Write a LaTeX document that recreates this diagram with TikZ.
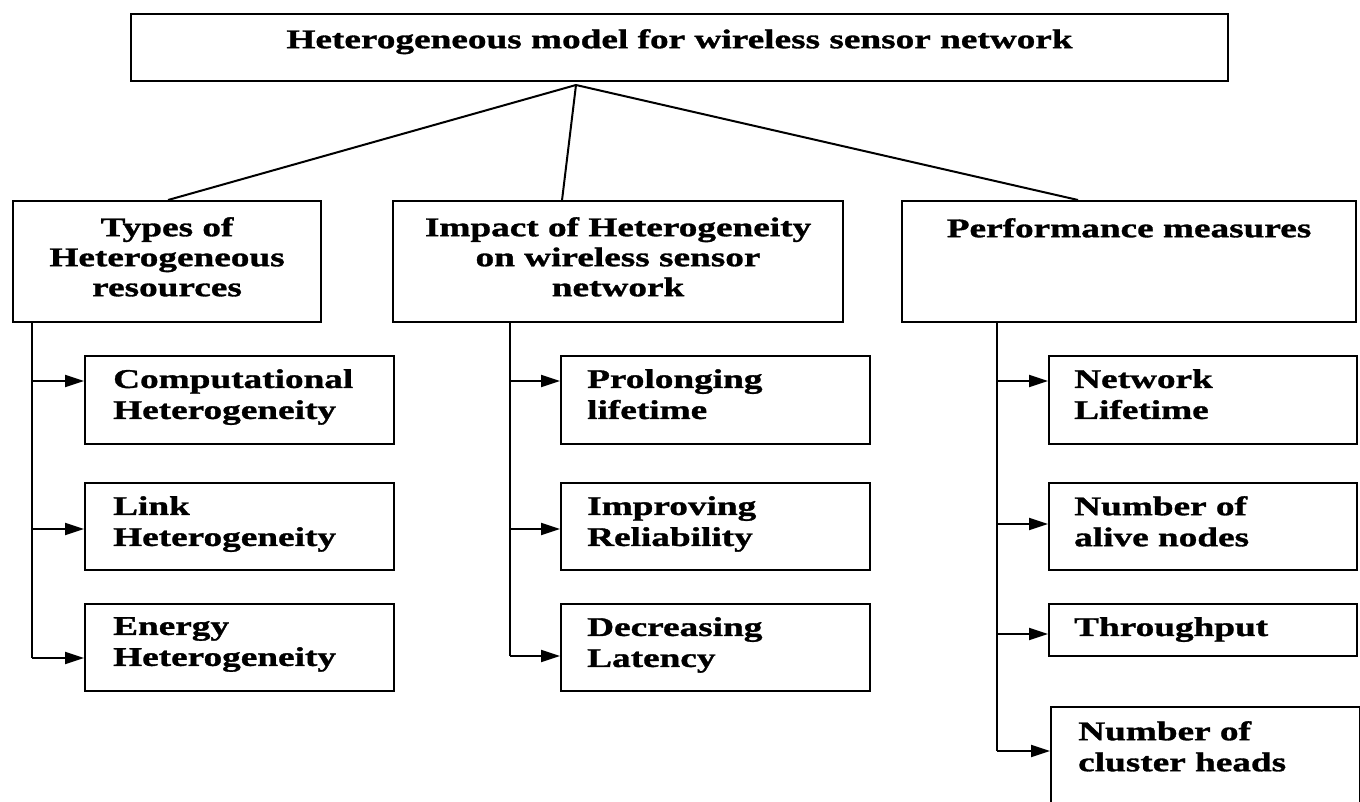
\documentclass[tikz,border=0pt]{standalone}
\usepackage{fontspec}
\setmainfont{Liberation Serif}[FakeStretch=1.38, BoldFeatures={FakeBold=1.2}]
\usetikzlibrary{arrows.meta,calc}
\begin{document}
\begin{tikzpicture}[x=1pt,y=-1pt,
  box/.style={draw, line width=2.1pt, inner sep=0pt, anchor=north west},
  txt/.style={inner sep=0pt, anchor=north west, align=left, font=\bfseries\fontsize{27}{31}\selectfont},
  ctxt/.style={inner sep=0pt, anchor=north, align=center, font=\bfseries\fontsize{27}{30}\selectfont},
  conn/.style={line width=2pt},
  arr/.style={-{Triangle[length=19pt,width=12pt]}}]
\fill[white] (0,0) rectangle (1360,801);
\clip (0,0) rectangle (1360,801);
% top
\node[box, minimum width=1097pt, minimum height=67pt] (top) at (130,13) {};
\node[ctxt] (toptxt) at ($(top.north)+(0,16)$) {Heterogeneous model for wireless sensor network};
% level 1
\node[box, minimum width=308pt, minimum height=121pt] (types) at (12,200) {};
\node[ctxt] (typestxt) at ($(types.north)+(0,17)$) {Types of\\Heterogeneous\\resources};
\node[box, minimum width=450pt, minimum height=121pt] (impact) at (392,200) {};
\node[ctxt] (impacttxt) at ($(impact.north)+(0,17)$) {Impact of Heterogeneity\\on wireless sensor\\network};
\node[box, minimum width=454pt, minimum height=121pt] (perf) at (901,200) {};
\node[ctxt] (perftxt) at ($(perf.north)+(0,18)$) {Performance measures};
% left children
\node[box, minimum width=309pt, minimum height=88pt] (c1) at (84,355) {};
\node[txt] (c1t) at ($(c1.north west)+(29,14)$) {Computational\\Heterogeneity};
\node[box, minimum width=309pt, minimum height=87pt] (c2) at (84,482) {};
\node[txt] (c2t) at ($(c2.north west)+(29,14)$) {Link\\Heterogeneity};
\node[box, minimum width=309pt, minimum height=87pt] (c3) at (84,603) {};
\node[txt] (c3t) at ($(c3.north west)+(29,14)$) {Energy\\Heterogeneity};
% middle children
\node[box, minimum width=309pt, minimum height=88pt] (m1) at (560,355) {};
\node[txt] (m1t) at ($(m1.north west)+(27,14)$) {Prolonging\\lifetime};
\node[box, minimum width=309pt, minimum height=87pt] (m2) at (560,482) {};
\node[txt] (m2t) at ($(m2.north west)+(27,14)$) {Improving\\Reliability};
\node[box, minimum width=309pt, minimum height=87pt] (m3) at (560,603) {};
\node[txt] (m3t) at ($(m3.north west)+(27,14)$) {Decreasing\\Latency};
% right children
\node[box, minimum width=308pt, minimum height=88pt] (r1) at (1048,355) {};
\node[txt] (r1t) at ($(r1.north west)+(26,14)$) {Network\\Lifetime};
\node[box, minimum width=308pt, minimum height=87pt] (r2) at (1048,482) {};
\node[txt] (r2t) at ($(r2.north west)+(26,14)$) {Number of\\alive nodes};
\node[box, minimum width=308pt, minimum height=52pt] (r3) at (1048,603) {};
\node[txt] (r3t) at ($(r3.north west)+(26,14)$) {Throughput};
\node[box, minimum width=309pt, minimum height=110pt] (r4) at (1050,706) {};
\node[txt] (r4t) at ($(r4.north west)+(28,15)$) {Number of\\cluster heads};
% top connectors
\coordinate (apex) at (576,85);
\draw[conn] (apex) -- ($(types.north)+(1,0)$);
\draw[conn] (apex) -- ($(impact.north)+(-56,0)$);
\draw[conn] (apex) -- ($(perf.north)+(-51,0)$);
% buses
\coordinate (tb) at ($(types.south west)+(20,0)$);
\coordinate (ib) at ($(impact.south west)+(118,0)$);
\coordinate (pb) at ($(perf.south west)+(96,0)$);
\coordinate (ca1) at ($(c1.north west)+(0,26)$);
\coordinate (ca2) at ($(c2.north west)+(0,47)$);
\coordinate (ca3) at ($(c3.north west)+(0,55)$);
\coordinate (ma1) at ($(m1.north west)+(0,26)$);
\coordinate (ma2) at ($(m2.north west)+(0,47)$);
\coordinate (ma3) at ($(m3.north west)+(0,53)$);
\coordinate (ra1) at ($(r1.north west)+(0,26)$);
\coordinate (ra2) at ($(r2.north west)+(0,42)$);
\coordinate (ra3) at ($(r3.north west)+(0,31)$);
\coordinate (ra4) at ($(r4.north west)+(0,45)$);
\draw[conn] (tb) -- (tb |- ca3);
\draw[conn] (ib) -- (ib |- ma3);
\draw[conn] (pb) -- (pb |- ra4);
\foreach \a in {ca1,ca2,ca3}{\draw[conn,arr] (tb |- \a) -- (\a);}
\foreach \a in {ma1,ma2,ma3}{\draw[conn,arr] (ib |- \a) -- (\a);}
\foreach \a in {ra1,ra2,ra3,ra4}{\draw[conn,arr] (pb |- \a) -- (\a);}
\end{tikzpicture}
\end{document}
